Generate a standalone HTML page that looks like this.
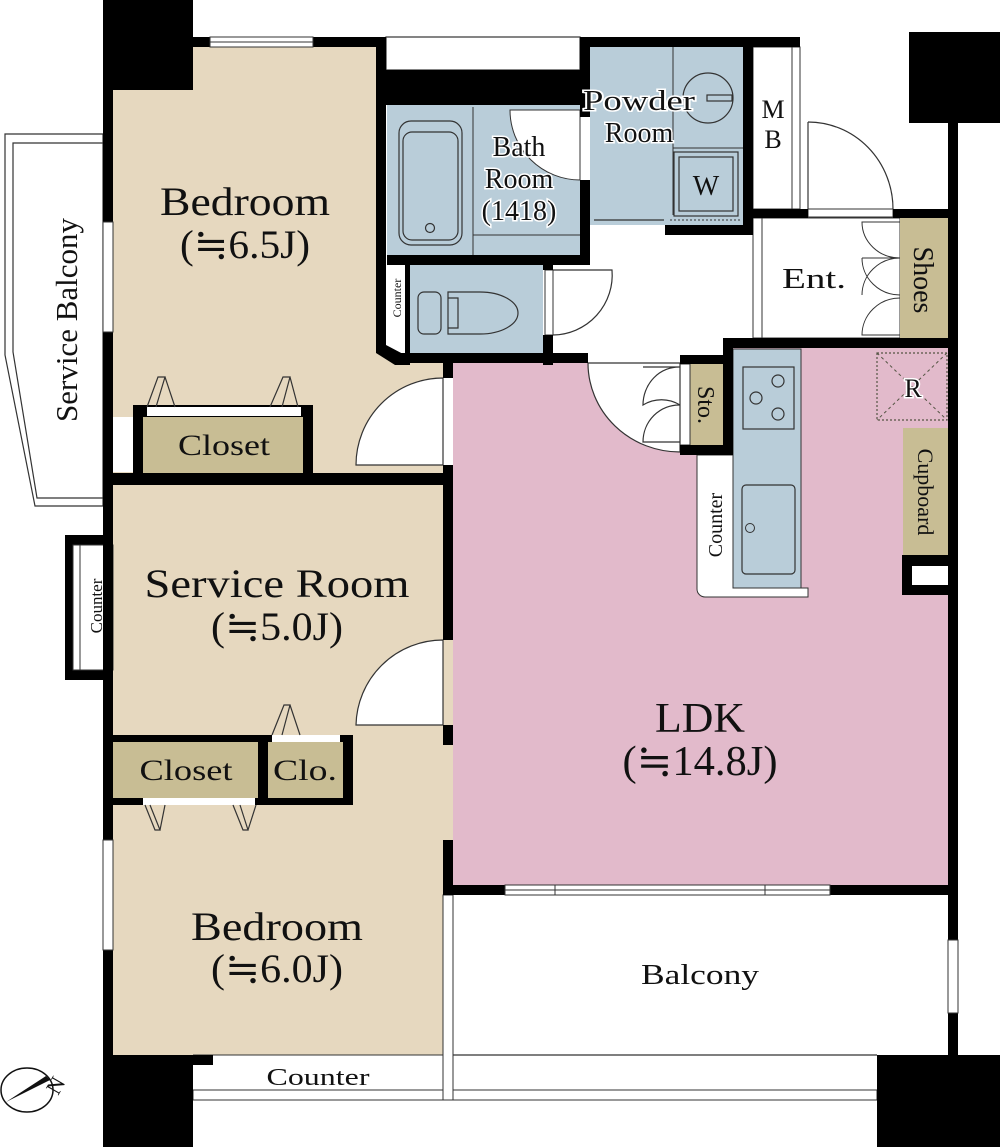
<!DOCTYPE html>
<html><head><meta charset="utf-8"><style>
html,body{margin:0;padding:0;background:#fff;}
svg{display:block;}
text{font-family:"Liberation Serif","DejaVu Serif",serif;fill:#111;}
</style></head><body>
<svg width="1000" height="1147" viewBox="0 0 1000 1147" xmlns="http://www.w3.org/2000/svg">
<rect x="113" y="47" width="265" height="428" fill="#e6d8bf"/>
<polygon points="376,350 395,362 443,362 443,475 376,475" fill="#e6d8bf"/>
<rect x="113" y="485" width="340" height="570" fill="#e6d8bf"/>
<rect x="453" y="363" width="495" height="522" fill="#e2bacb"/>
<rect x="723" y="348" width="225" height="20" fill="#e2bacb"/>
<polygon points="5,134 103,134 103,506 35,506 5,355" fill="#fff" stroke="#333" stroke-width="1.2"/>
<polyline points="103,143 13,143 13,352 37,498 103,498" fill="none" stroke="#333" stroke-width="1.2"/>
<rect x="386" y="37" width="194" height="33" fill="#fff" stroke="#333" stroke-width="1.2"/>
<rect x="387" y="105" width="193" height="150" fill="#b9cdd9"/>
<line x1="473" y1="107" x2="473" y2="255" stroke="#333" stroke-width="1"/>
<line x1="473" y1="235" x2="580" y2="235" stroke="#333" stroke-width="1"/>
<rect x="399" y="121" width="63" height="124" rx="12" fill="none" stroke="#333" stroke-width="1.2"/>
<rect x="403" y="132" width="55" height="108" rx="9" fill="none" stroke="#333" stroke-width="1.2"/>
<circle cx="430" cy="228" r="4.5" fill="none" stroke="#333" stroke-width="1.2"/>
<path d="M510,110 A70,70 0 0 0 580,180 L580,110 Z" fill="#fff" stroke="#333" stroke-width="1"/>
<rect x="590" y="47" width="153" height="178" fill="#b9cdd9"/>
<line x1="673" y1="47" x2="673" y2="215" stroke="#333" stroke-width="1"/>
<line x1="673" y1="148" x2="743" y2="148" stroke="#333" stroke-width="1"/>
<rect x="674" y="152" width="64" height="64" fill="none" stroke="#333" stroke-width="1.2"/>
<rect x="679" y="157" width="54" height="54" fill="none" stroke="#333" stroke-width="1.2"/>
<circle cx="708" cy="98" r="25" fill="none" stroke="#333" stroke-width="1.2"/>
<rect x="707" y="95" width="25" height="6" fill="none" stroke="#333" stroke-width="1.2"/>
<line x1="594" y1="220" x2="664" y2="220" stroke="#333" stroke-width="1.2"/>
<line x1="670" y1="220" x2="740" y2="220" stroke="#333" stroke-width="1" stroke-dasharray="2,2"/>
<rect x="753" y="47" width="47" height="162" fill="#fff" stroke="#333" stroke-width="1"/>
<line x1="792" y1="47" x2="792" y2="209" stroke="#333" stroke-width="1"/>
<path d="M808,122 A85,87 0 0 1 893,209" fill="none" stroke="#333" stroke-width="1.2"/>
<line x1="808" y1="122" x2="808" y2="209" stroke="#333" stroke-width="1.2"/>
<rect x="808" y="209" width="85" height="8" fill="#fff" stroke="#333" stroke-width="1"/>
<rect x="753" y="218" width="147" height="120" fill="#fff" stroke="#333" stroke-width="1"/>
<line x1="762" y1="218" x2="762" y2="338" stroke="#333" stroke-width="1"/>
<rect x="900" y="218" width="48" height="120" fill="#c8bd94"/>
<path d="M900,222 L862,222 A38,36 0 0 0 900,258 M862,258 L900,258 M900,258 A38,37 0 0 0 862,295 M862,258 A38,37 0 0 0 900,295 M900,298 A38,37 0 0 0 862,335 L900,335" fill="none" stroke="#333" stroke-width="1"/>
<path d="M553,270 L612,270 A60,60 0 0 1 553,335" fill="#fff" stroke="#333" stroke-width="1.2"/>
<rect x="545" y="270" width="8" height="65" fill="#fff" stroke="#333" stroke-width="1"/>
<rect x="410" y="265" width="133" height="88" fill="#b9cdd9"/>
<rect x="418" y="292" width="23" height="42" rx="6" fill="none" stroke="#333" stroke-width="1.2"/>
<path d="M448,292 L480,292 A38,21 0 0 1 480,334 L448,334 Z" fill="none" stroke="#333" stroke-width="1.2"/>
<path d="M448,298 L458,298 L458,328 L448,328" fill="none" stroke="#333" stroke-width="1.2"/>
<rect x="387" y="265" width="18" height="90" fill="#fff"/>
<text x="0" y="0" font-size="12" text-anchor="middle" transform="translate(401,298) rotate(-90)">Counter</text>
<path d="M697,455 L733,455 L733,588 L808,588 L808,597 L705,597 A8,8 0 0 1 697,589 Z" fill="#fff" stroke="#333" stroke-width="1"/>
<rect x="733" y="349" width="68" height="239" fill="#b9cdd9" stroke="#333" stroke-width="1"/>
<rect x="743" y="367" width="51" height="62" fill="none" stroke="#333" stroke-width="1.2"/>
<g fill="none" stroke="#333" stroke-width="1.2">
<circle cx="778" cy="381" r="6"/><circle cx="756" cy="398" r="6"/><circle cx="778" cy="414" r="6"/>
</g>
<rect x="742" y="485" width="53" height="89" rx="4" fill="none" stroke="#333" stroke-width="1.2"/>
<circle cx="750" cy="528" r="4.5" fill="none" stroke="#333" stroke-width="1"/>
<text x="0" y="0" font-size="20" text-anchor="middle" transform="translate(722,525) rotate(-90)">Counter</text>
<rect x="690" y="364" width="33" height="81" fill="#c8bd94"/>
<rect x="680" y="364" width="10" height="81" fill="#fff" stroke="#333" stroke-width="1"/>
<path d="M588,363 A92,89 0 0 0 680,452 L680,363 Z" fill="#fff" stroke="#333" stroke-width="1.2"/>
<path d="M643,367 L680,367 A36,38 0 0 0 643,405 A36,37 0 0 1 680,405 M680,405 A36,37 0 0 0 643,442 L680,442" fill="none" stroke="#333" stroke-width="1.2"/>
<rect x="877" y="353" width="70" height="67" fill="none" stroke="#554" stroke-width="1.2" stroke-dasharray="2,2"/>
<line x1="877" y1="353" x2="947" y2="420" stroke="#554" stroke-width="1" stroke-dasharray="3,3"/>
<line x1="947" y1="353" x2="877" y2="420" stroke="#554" stroke-width="1" stroke-dasharray="3,3"/>
<rect x="903" y="428" width="45" height="127" fill="#c8bd94"/>
<rect x="902" y="555" width="48" height="40" fill="#000"/>
<rect x="912" y="566" width="36" height="19" fill="#fff"/>
<line x1="453" y1="1055" x2="877" y2="1055" stroke="#333" stroke-width="1.2"/>
<rect x="193" y="1090" width="684" height="10" fill="#fff" stroke="#333" stroke-width="1"/>
<line x1="193" y1="1055" x2="443" y2="1055" stroke="#333" stroke-width="1"/>
<rect x="443" y="895" width="10" height="205" fill="#fff" stroke="#333" stroke-width="1"/>
<rect x="133" y="405" width="180" height="75" fill="#000"/>
<rect x="143" y="417" width="160" height="56" fill="#c8bd94"/>
<rect x="147" y="407" width="154" height="9" fill="#fff"/>
<rect x="113" y="417" width="20" height="55" fill="#fff"/>
<rect x="113" y="735" width="240" height="70" fill="#000"/>
<rect x="113" y="742" width="145" height="56" fill="#c8bd94"/>
<rect x="268" y="742" width="75" height="56" fill="#c8bd94"/>
<rect x="272" y="735" width="68" height="7" fill="#fff"/>
<rect x="143" y="798" width="112" height="7" fill="#fff"/>
<g fill="none" stroke="#333" stroke-width="1.2">
<path d="M147,407 L158,377 L165,377 L156,407 M165,377 L175,407"/>
<path d="M270,407 L283,377 L290,377 L282,407 M290,377 L298,407"/>
<path d="M272,735 L284,705 L290,705 L282,735 M290,705 L300,735"/>
<path d="M145,805 L155,830 L160,830 L150,805 M160,830 L165,805"/>
<path d="M233,805 L243,830 L248,830 L240,805 M248,830 L256,805"/>
</g>
<path d="M443,378 A87,87 0 0 0 356,465 L443,465 Z" fill="#fff" stroke="#333" stroke-width="1.2"/>
<path d="M443,640 A87,87 0 0 0 356,725 L443,725 Z" fill="#fff" stroke="#333" stroke-width="1.2"/>
<rect x="65" y="535" width="48" height="145" fill="#000"/>
<rect x="73" y="545" width="40" height="125" fill="#fff" stroke="#333" stroke-width="1"/>
<line x1="80" y1="545" x2="80" y2="670" stroke="#333" stroke-width="1"/>
<text x="0" y="0" font-size="17" text-anchor="middle" transform="translate(102,606) rotate(-90)">Counter</text>
<g fill="#000">
<rect x="103" y="0" width="90" height="90"/>
<rect x="103" y="0" width="10" height="1147"/>
<rect x="193" y="37" width="193" height="10"/>
<rect x="376" y="37" width="10" height="313"/>
<polygon points="376,345 386,345 405,355 405,365 395,365 376,353"/>
<rect x="386" y="70" width="204" height="35"/>
<rect x="580" y="37" width="220" height="10"/>
<rect x="580" y="37" width="10" height="80"/>
<rect x="580" y="180" width="10" height="85"/>
<rect x="387" y="255" width="203" height="10"/>
<rect x="405" y="265" width="5" height="100"/>
<rect x="543" y="255" width="10" height="15"/>
<rect x="543" y="335" width="10" height="30"/>
<rect x="395" y="353" width="193" height="10"/>
<rect x="743" y="47" width="10" height="188"/>
<rect x="665" y="225" width="88" height="10"/>
<rect x="753" y="209" width="55" height="9"/>
<rect x="893" y="209" width="65" height="9"/>
<rect x="909" y="32" width="91" height="91"/>
<rect x="948" y="118" width="10" height="822"/>
<rect x="948" y="1013" width="10" height="47"/>
<rect x="723" y="338" width="235" height="10"/>
<rect x="723" y="338" width="10" height="117"/>
<rect x="680" y="445" width="53" height="10"/>
<rect x="680" y="355" width="43" height="9"/>
<rect x="443" y="363" width="10" height="15"/>
<rect x="443" y="465" width="10" height="175"/>
<rect x="113" y="473" width="330" height="12"/>
<rect x="443" y="725" width="10" height="20"/>
<rect x="443" y="840" width="10" height="55"/>
<rect x="453" y="885" width="52" height="10"/>
<rect x="830" y="885" width="128" height="10"/>
<rect x="103" y="1055" width="90" height="92"/>
<rect x="877" y="1055" width="123" height="92"/>
<rect x="193" y="1055" width="20" height="10"/>
</g>
<g fill="#fff" stroke="#333" stroke-width="1">
<rect x="210" y="37" width="103" height="10"/><line x1="210" y1="42" x2="313" y2="42"/>
<rect x="103" y="222" width="10" height="110"/>
<rect x="103" y="840" width="10" height="110"/>
<rect x="505" y="885" width="325" height="10"/><line x1="505" y1="890" x2="830" y2="890"/>
<line x1="555" y1="885" x2="555" y2="895"/><line x1="765" y1="885" x2="765" y2="895"/>
<rect x="948" y="940" width="10" height="73"/>
</g>
<ellipse cx="27" cy="1090" rx="26" ry="22" fill="#fff" stroke="#111" stroke-width="1.5"/>
<polygon points="6,1102 50,1080 46,1076" fill="#111"/>
<text x="0" y="0" font-size="22" transform="translate(58,1096) rotate(-60)">N</text>
<g text-anchor="middle" lengthAdjust="spacingAndGlyphs">
<text x="245" y="215" font-size="40" textLength="170" lengthAdjust="spacingAndGlyphs">Bedroom</text>
<text x="245" y="258" font-size="40" textLength="130" lengthAdjust="spacingAndGlyphs">(≒6.5J)</text>
<text x="224" y="455" font-size="30" textLength="92" lengthAdjust="spacingAndGlyphs">Closet</text>
<text x="277" y="597" font-size="40" textLength="265" lengthAdjust="spacingAndGlyphs">Service Room</text>
<text x="277" y="640" font-size="40" textLength="132" lengthAdjust="spacingAndGlyphs">(≒5.0J)</text>
<text x="186" y="780" font-size="30" textLength="93" lengthAdjust="spacingAndGlyphs">Closet</text>
<text x="305" y="780" font-size="30" textLength="64" lengthAdjust="spacingAndGlyphs">Clo.</text>
<text x="277" y="940" font-size="40" textLength="172" lengthAdjust="spacingAndGlyphs">Bedroom</text>
<text x="277" y="982" font-size="40" textLength="132" lengthAdjust="spacingAndGlyphs">(≒6.0J)</text>
<text x="700" y="732" font-size="42" textLength="90" lengthAdjust="spacingAndGlyphs">LDK</text>
<text x="700" y="775" font-size="42" textLength="155" lengthAdjust="spacingAndGlyphs">(≒14.8J)</text>
<text x="700" y="984" font-size="28" textLength="118" lengthAdjust="spacingAndGlyphs">Balcony</text>
<text x="318" y="1085" font-size="24" textLength="103" lengthAdjust="spacingAndGlyphs">Counter</text>
<text x="519" y="156" font-size="28" stroke="#fff" stroke-width="3" paint-order="stroke">Bath</text>
<text x="519" y="188" font-size="28" stroke="#fff" stroke-width="3" paint-order="stroke">Room</text>
<text x="519" y="220" font-size="28" stroke="#fff" stroke-width="3" paint-order="stroke">(1418)</text>
<text x="639" y="110" font-size="28" stroke="#fff" stroke-width="3" paint-order="stroke" textLength="112" lengthAdjust="spacingAndGlyphs">Powder</text>
<text x="639" y="142" font-size="28" stroke="#fff" stroke-width="3" paint-order="stroke">Room</text>
<text x="706" y="195" font-size="28">W</text>
<text x="773" y="118" font-size="26">M</text>
<text x="773" y="148" font-size="26">B</text>
<text x="814" y="288" font-size="28" textLength="64" lengthAdjust="spacingAndGlyphs">Ent.</text>
<text x="913" y="397" font-size="26" stroke="#fff" stroke-width="3" paint-order="stroke">R</text>
</g>
<text x="0" y="0" font-size="31" text-anchor="middle" transform="translate(77,320) rotate(-90)">Service Balcony</text>
<text x="0" y="0" font-size="28" text-anchor="middle" transform="translate(914,280) rotate(90)">Shoes</text>
<text x="0" y="0" font-size="24" text-anchor="middle" transform="translate(698,405) rotate(90)">Sto.</text>
<text x="0" y="0" font-size="22" text-anchor="middle" transform="translate(918,492) rotate(90)">Cupboard</text>
</svg>
</body></html>
